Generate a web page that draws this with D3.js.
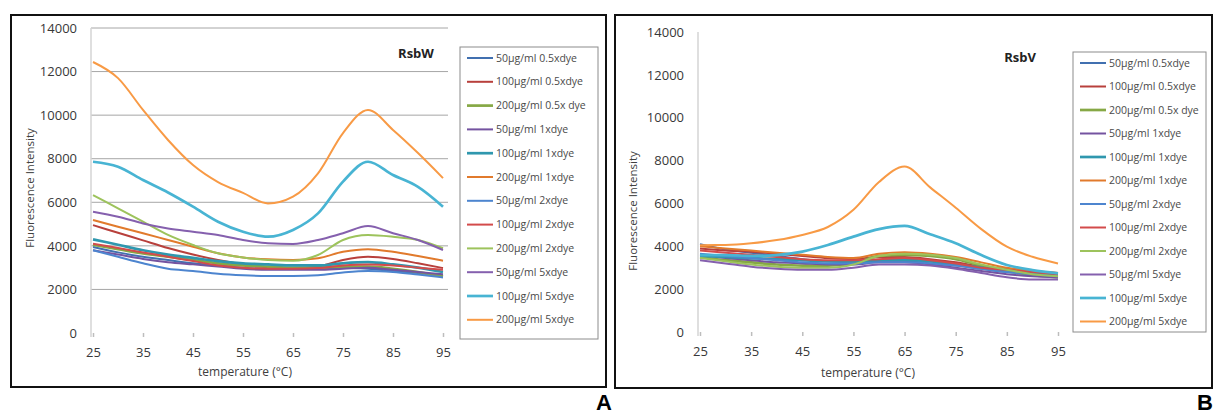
<!DOCTYPE html>
<html>
<head>
<meta charset="utf-8">
<script src="https://cdn.jsdelivr.net/npm/d3@7"></script>
<style>
body { margin: 0; background: #fff; }
text { font-family: "Open Sans", sans-serif; fill: #404040; }
.legend text { font-size: 10.5px; fill: #4a4a4a; }
</style>
</head>
<body>
<svg id="svg"></svg>
<script>
var width = 1214, height = 416;

// temperatures (°C) sampled from the curves
var temps = [25, 30, 35, 40, 45, 50, 55, 60, 65, 70, 75, 80, 85, 90, 95];
var xTicks = [25, 35, 45, 55, 65, 75, 85, 95];
var yTicks = [0, 2000, 4000, 6000, 8000, 10000, 12000, 14000];

var seriesNames = ["50µg/ml 0.5xdye", "100µg/ml 0.5xdye", "200µg/ml 0.5x dye",
	"50µg/ml 1xdye", "100µg/ml 1xdye", "200µg/ml 1xdye",
	"50µg/ml 2xdye", "100µg/ml 2xdye", "200µg/ml 2xdye",
	"50µg/ml 5xdye", "100µg/ml 5xdye", "200µg/ml 5xdye"];
var seriesColors = ["#4170b0", "#b8403c", "#86a845", "#7453a0", "#2f97ae", "#e17a2c",
	"#4d85cf", "#d34b4b", "#9dc35c", "#8560ae", "#48b4d3", "#f89a45"];
var seriesWidths = [2, 2, 2.7, 2, 2.7, 2, 2, 2, 2, 2, 2.7, 2];

// panel A: RsbW
var rsbwSeries = [
	[3950, 3700, 3500, 3350, 3200, 3100, 3000, 2950, 2950, 2950, 3000, 2950, 2850, 2750, 2650],
	[4950, 4600, 4250, 3900, 3600, 3350, 3150, 3020, 2980, 3050, 3350, 3500, 3400, 3200, 2980],
	[4050, 3850, 3650, 3500, 3350, 3200, 3100, 3050, 3000, 3000, 3050, 3050, 2950, 2800, 2600],
	[3800, 3600, 3400, 3250, 3150, 3050, 2950, 2900, 2900, 2900, 2950, 3000, 2900, 2800, 2700],
	[4300, 4050, 3800, 3600, 3450, 3300, 3200, 3150, 3100, 3100, 3200, 3250, 3150, 3000, 2800],
	[5190, 4880, 4580, 4270, 3960, 3660, 3470, 3380, 3350, 3430, 3730, 3850, 3730, 3530, 3320],
	[3800, 3500, 3200, 2950, 2850, 2720, 2650, 2620, 2620, 2650, 2780, 2850, 2800, 2680, 2550],
	[4100, 3900, 3700, 3500, 3300, 3100, 3000, 2950, 2950, 2980, 3100, 3150, 3100, 3000, 2900],
	[6330, 5720, 5110, 4500, 4040, 3660, 3470, 3350, 3320, 3580, 4270, 4500, 4420, 4270, 3890],
	[5570, 5340, 5030, 4800, 4650, 4500, 4270, 4120, 4090, 4270, 4580, 4910, 4580, 4270, 3810],
	[7860, 7630, 7020, 6450, 5800, 5110, 4650, 4420, 4730, 5490, 6950, 7860, 7250, 6710, 5800],
	[12440, 11700, 10240, 8860, 7710, 6930, 6430, 5950, 6260, 7330, 9180, 10240, 9320, 8260, 7110]
];

// panel B: RsbV
var rsbvSeries = [
	[4100, 3850, 3700, 3550, 3400, 3300, 3250, 3300, 3300, 3200, 3100, 2950, 2800, 2700, 2650],
	[3900, 3800, 3750, 3650, 3550, 3450, 3400, 3500, 3500, 3400, 3250, 3050, 2950, 2850, 2750],
	[3500, 3350, 3250, 3150, 3100, 3100, 3200, 3550, 3600, 3550, 3400, 3100, 2850, 2650, 2550],
	[3600, 3450, 3350, 3250, 3200, 3150, 3150, 3250, 3250, 3150, 3000, 2850, 2700, 2600, 2550],
	[3550, 3500, 3450, 3400, 3350, 3300, 3300, 3350, 3350, 3300, 3150, 3000, 2850, 2750, 2700],
	[4000, 3900, 3800, 3700, 3600, 3500, 3450, 3650, 3720, 3650, 3500, 3250, 3000, 2850, 2750],
	[3650, 3550, 3450, 3350, 3250, 3200, 3200, 3250, 3250, 3200, 3100, 2950, 2800, 2700, 2600],
	[3800, 3700, 3600, 3500, 3400, 3350, 3350, 3400, 3450, 3350, 3200, 3000, 2900, 2800, 2700],
	[3450, 3300, 3150, 3050, 3000, 3000, 3150, 3550, 3650, 3600, 3450, 3150, 2900, 2700, 2600],
	[3350, 3200, 3050, 2950, 2900, 2900, 3000, 3150, 3150, 3100, 2950, 2750, 2550, 2450, 2450],
	[3590, 3590, 3550, 3590, 3750, 4060, 4450, 4800, 4950, 4560, 4140, 3590, 3130, 2890, 2740],
	[4050, 4060, 4140, 4290, 4530, 4900, 5700, 7000, 7720, 6750, 5800, 4800, 3980, 3510, 3200]
];

var svg = d3.select("#svg")
	.attr("width", width)
	.attr("height", height);

var panels = [
	{ frame: [11, 15, 606, 387], x0: 93, x1: 443, y0: 333, y1: 28, axisX: 91, grid: true,
	  title: "RsbW", titleX: 416, titleY: 58, yTitleX: 30, yTitleY: 188, xTitleX: 245, xTitleY: 376,
	  legend: [460, 47, 598, 339], legendY: 58, legendStep: 23.8, data: rsbwSeries },
	{ frame: [615, 15, 1212, 388], x0: 700, x1: 1058, y0: 332, y1: 32, axisX: 698, grid: false,
	  title: "RsbV", titleX: 1020, titleY: 62, yTitleX: 633, yTitleY: 211, xTitleX: 868, xTitleY: 377,
	  legend: [1073, 52, 1206, 332], legendY: 63, legendStep: 23.5, data: rsbvSeries }
];

panels.forEach(function(p) { plot(p); });

function plot(p)
{
	var f = p.frame;
	svg.append("rect")
		.attr("x", f[0]).attr("y", f[1])
		.attr("width", f[2] - f[0]).attr("height", f[3] - f[1])
		.attr("fill", "none")
		.attr("stroke", "#111")
		.attr("stroke-width", 2);

	var x = d3.scaleLinear().domain([25, 95]).range([p.x0, p.x1]);
	var y = d3.scaleLinear().domain([0, 14000]).range([p.y0, p.y1]);

	if (p.grid) {
		svg.append("g").selectAll("line")
			.data(yTicks.slice(1))
			.enter().append("line")
			.attr("x1", p.axisX).attr("x2", p.x1 + 5)
			.attr("y1", function(d) { return y(d); })
			.attr("y2", function(d) { return y(d); })
			.attr("stroke", "#a6a6a6")
			.attr("stroke-width", 1);
	}

	var yAxis = d3.axisLeft(y)
		.tickValues(yTicks)
		.tickFormat(d3.format("d"))
		.tickSize(0)
		.tickSizeOuter(0)
		.tickPadding(14);
	var gy = svg.append("g")
		.attr("transform", "translate(" + p.axisX + ",0)")
		.call(yAxis);
	gy.select(".domain").attr("stroke", "#d4d4d4").attr("stroke-width", 1.5)
		.attr("d", "M0," + (p.y0 + 4) + "V" + p.y1);
	gy.selectAll("text").style("font-size", "13px").style("fill", "#383838")
		.style("font-family", "'Open Sans', sans-serif");

	var xAxis = d3.axisBottom(x)
		.tickValues(xTicks)
		.tickSize(4)
		.tickPadding(11);
	var gx = svg.append("g")
		.attr("transform", "translate(0," + p.y0 + ")")
		.call(xAxis);
	gx.select(".domain").remove();
	gx.selectAll("line").attr("stroke", "#bdbdbd").attr("stroke-width", 1.5);
	gx.selectAll("text").style("font-size", "13px").style("fill", "#383838")
		.style("font-family", "'Open Sans', sans-serif");

	var line = d3.line()
		.x(function(d, i) { return x(temps[i]); })
		.y(function(d) { return y(d); })
		.curve(d3.curveMonotoneX);

	svg.append("g").selectAll("path")
		.data(p.data)
		.enter().append("path")
		.attr("d", function(d) { return line(d); })
		.attr("fill", "none")
		.attr("stroke", function(d, i) { return seriesColors[i]; })
		.attr("stroke-width", function(d, i) { return seriesWidths[i]; })
		.attr("stroke-linejoin", "round");

	svg.append("text")
		.attr("x", p.titleX).attr("y", p.titleY)
		.style("text-anchor", "middle")
		.style("font-size", "13px")
		.style("font-weight", "bold")
		.style("fill", "#222")
		.text(p.title);

	svg.append("text")
		.attr("x", p.xTitleX).attr("y", p.xTitleY)
		.style("text-anchor", "middle")
		.style("font-size", "12px")
		.text("temperature (°C)");

	svg.append("text")
		.attr("transform", "translate(" + p.yTitleX + "," + p.yTitleY + ") rotate(-90)")
		.attr("dy", "0.35em")
		.style("text-anchor", "middle")
		.style("font-size", "11.5px")
		.text("Fluorescence Intensity");

	var L = p.legend;
	var lg = svg.append("g").attr("class", "legend");
	lg.append("rect")
		.attr("x", L[0]).attr("y", L[1])
		.attr("width", L[2] - L[0]).attr("height", L[3] - L[1])
		.attr("fill", "#fff")
		.attr("stroke", "#8c8c8c")
		.attr("stroke-width", 1);
	var item = lg.selectAll("g.item")
		.data(seriesNames)
		.enter().append("g")
		.attr("class", "item")
		.attr("transform", function(d, i) {
			return "translate(" + (L[0] + 7) + "," + (p.legendY + i * p.legendStep) + ")";
		});
	item.append("line")
		.attr("x1", 0).attr("x2", 26)
		.attr("stroke", function(d, i) { return seriesColors[i]; })
		.attr("stroke-width", function(d, i) { return seriesWidths[i]; });
	item.append("text")
		.attr("x", 29).attr("dy", "0.35em")
		.text(function(d) { return d; });
}

svg.append("text")
	.attr("x", 604).attr("y", 410)
	.style("text-anchor", "middle")
	.style("font-family", "'Liberation Sans', Arial, sans-serif")
	.style("font-size", "22px")
	.style("font-weight", "bold")
	.style("fill", "#000")
	.text("A");
svg.append("text")
	.attr("x", 1205).attr("y", 410)
	.style("text-anchor", "middle")
	.style("font-family", "'Liberation Sans', Arial, sans-serif")
	.style("font-size", "22px")
	.style("font-weight", "bold")
	.style("fill", "#000")
	.text("B");
</script>
</body>
</html>
